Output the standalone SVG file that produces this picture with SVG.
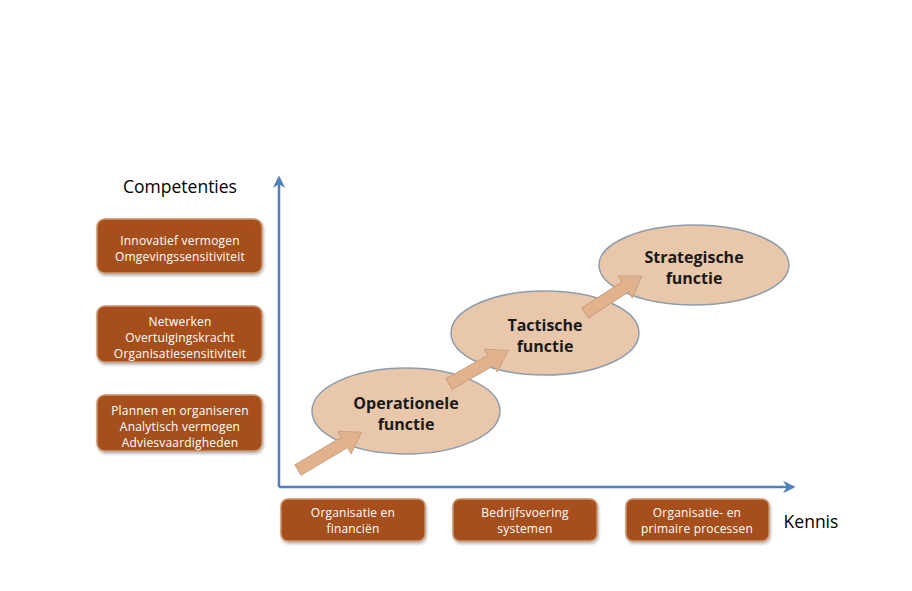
<svg xmlns="http://www.w3.org/2000/svg" width="912" height="591" viewBox="0 0 912 591">
<defs>
<linearGradient id="boxg" x1="0" y1="0" x2="0" y2="1">
<stop offset="0" stop-color="#A8501E"/>
<stop offset="1" stop-color="#A4501F"/>
</linearGradient>
<filter id="sh" x="-10%" y="-10%" width="130%" height="140%">
<feDropShadow dx="1" dy="2" stdDeviation="1.5" flood-color="#000" flood-opacity="0.3"/>
</filter>
<marker id="ah" viewBox="0 0 10 10" refX="8" refY="5" markerWidth="5" markerHeight="5" orient="auto" markerUnits="strokeWidth">
<path d="M0,0 L10,5 L0,10 L3,5 z" fill="#4F81BD"/>
</marker>
</defs>
<style>
.box{fill:url(#boxg);stroke:#C9946C;stroke-width:1.5;filter:url(#sh)}
.bt{font-family:"Open Sans","Liberation Sans",sans-serif;font-size:12px;letter-spacing:0.2px;fill:#FFFFFF;text-anchor:middle}
.ell{fill:#E9C7AA;stroke:#8E9DAB;stroke-width:1.5}
.et{font-family:"Open Sans","Liberation Sans",sans-serif;font-size:16px;font-weight:bold;fill:#1a1a1a;text-anchor:middle}
.axis{stroke:#4F81BD;stroke-width:2.5;fill:none}
.ar{fill:#E2B28D;stroke:#C9A384;stroke-width:1}
.lab{font-family:"Open Sans","Liberation Sans",sans-serif;font-size:17.5px;fill:#000}
</style>
<rect width="912" height="591" fill="#FFFFFF"/>

<text class="lab" x="180" y="193" text-anchor="middle">Competenties</text>
<text class="lab" x="811" y="528" text-anchor="middle">Kennis</text>

<g id="connectors">
<line class="axis" x1="279" y1="487" x2="279" y2="178" marker-end="url(#ah)"/>
<line class="axis" x1="279" y1="487" x2="793" y2="487" marker-end="url(#ah)"/>
</g>

<g id="comp1"><rect class="box" x="97" y="219" width="165" height="54" rx="8"/>
<text class="bt" x="180" y="245">Innovatief vermogen</text>
<text class="bt" x="180" y="261">Omgevingssensitiviteit</text></g>
<g id="comp2"><rect class="box" x="97" y="306" width="165" height="56" rx="8"/>
<text class="bt" x="180" y="326">Netwerken</text>
<text class="bt" x="180" y="342">Overtuigingskracht</text>
<text class="bt" x="180" y="358">Organisatiesensitiviteit</text></g>
<g id="comp3"><rect class="box" x="97" y="395" width="165" height="56" rx="8"/>
<text class="bt" x="180" y="415">Plannen en organiseren</text>
<text class="bt" x="180" y="431">Analytisch vermogen</text>
<text class="bt" x="180" y="447">Adviesvaardigheden</text></g>

<g id="kennis1"><rect class="box" x="281" y="499" width="144" height="42" rx="7"/>
<text class="bt" x="353" y="517">Organisatie en</text>
<text class="bt" x="353" y="533">financiën</text></g>
<g id="kennis2"><rect class="box" x="453" y="499" width="144" height="42" rx="7"/>
<text class="bt" x="525" y="517">Bedrijfsvoering</text>
<text class="bt" x="525" y="533">systemen</text></g>
<g id="kennis3"><rect class="box" x="626" y="499" width="143" height="42" rx="7"/>
<text class="bt" x="697" y="517">Organisatie- en</text>
<text class="bt" x="697" y="533">primaire processen</text></g>

<g id="operationele"><ellipse class="ell" cx="406" cy="411" rx="94" ry="43"/>
<text class="et" x="406" y="409">Operationele</text>
<text class="et" x="406" y="430">functie</text></g>
<g id="tactische"><ellipse class="ell" cx="545" cy="333" rx="94" ry="42"/>
<text class="et" x="545" y="331">Tactische</text>
<text class="et" x="545" y="352">functie</text></g>
<g id="strategische"><ellipse class="ell" cx="694" cy="265" rx="95" ry="40"/>
<text class="et" x="694" y="263">Strategische</text>
<text class="et" x="694" y="284">functie</text></g>

<g id="arrows">
<path class="ar" transform="translate(298,470) rotate(-30.7)" d="M0,-6 L54,-6 L54,-13 L74,0 L54,13 L54,6 L0,6 Z"/>
<path class="ar" transform="translate(449,384) rotate(-29.5)" d="M0,-6 L48,-6 L48,-13 L68,0 L48,13 L48,6 L0,6 Z"/>
<path class="ar" transform="translate(585,313) rotate(-33)" d="M0,-6 L48,-6 L48,-13 L68,0 L48,13 L48,6 L0,6 Z"/>
</g>
</svg>
